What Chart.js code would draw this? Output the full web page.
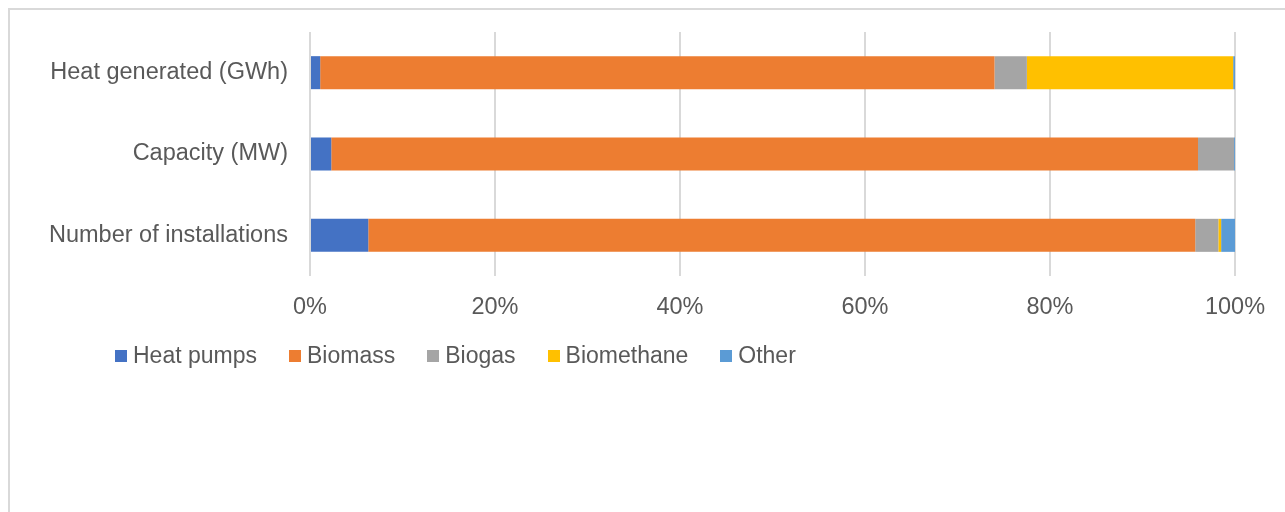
<!DOCTYPE html>
<html lang="en">
<head>
  <meta charset="UTF-8">
  <title>Renewable heat by technology</title>
  <script src="https://cdn.jsdelivr.net/npm/chart.js"></script>
  <style>
    * { box-sizing: border-box; margin: 0; padding: 0; }
    body { width: 1285px; height: 512px; background: #fff; overflow: hidden; position: relative;
           font-family: 'Liberation Sans', Arial, sans-serif; }
    .frame { position: absolute; left: 8px; top: 8px; width: 1300px; height: 520px; border: 2px solid #d9d9d9; }
    .chart-wrap { position: absolute; left: 0; top: 0; width: 1285px; height: 512px; }
    .legend { position: absolute; left: 115px; top: 342px; display: flex; gap: 32px; align-items: center;
              font-size: 23px; color: #595959; }
    .legend span.item { display: flex; align-items: center; gap: 6px; white-space: nowrap; }
    .legend i { display: inline-block; width: 12px; height: 12px; }
  </style>
</head>
<body>
  <div class="frame"></div>
  <div class="chart-wrap"><canvas id="chart" width="1285" height="512"></canvas></div>
  <div class="legend" id="legend"></div>

  <script>
    // categories, top to bottom
    const categories = ['Heat generated (GWh)', 'Capacity (MW)', 'Number of installations'];
    const seriesNames = ['Heat pumps', 'Biomass', 'Biogas', 'Biomethane', 'Other'];
    const seriesColors = ['#4472C4', '#ED7D31', '#A5A5A5', '#FFC000', '#5B9BD5'];

    // shares in %, one value per category
    const heatPumps  = [1.1, 2.3, 6.3];
    const biomass    = [72.9, 93.7, 89.4];
    const biogas     = [3.5, 3.9, 2.5];
    const biomethane = [22.3, 0.0, 0.3];
    const other      = [0.2, 0.1, 1.5];
    const xTicks     = [0, 20, 40, 60, 80, 100];

    const values = [heatPumps, biomass, biogas, biomethane, other];
    const textColor = '#595959';
    const font = { family: "'Liberation Sans', Arial, sans-serif", size: 23.5 };

    const datasets = seriesNames.map((name, i) => ({
      label: name,
      data: values[i],
      backgroundColor: seriesColors[i],
      borderWidth: 0,
      categoryPercentage: 1,
      barPercentage: 0.406
    }));

    new Chart(document.getElementById('chart'), {
      type: 'bar',
      data: { labels: categories, datasets },
      options: {
        indexAxis: 'y',
        responsive: false,
        animation: false,
        layout: { padding: { left: 0, right: 50, top: 32, bottom: 176 } },
        plugins: { legend: { display: false }, tooltip: { enabled: false } },
        scales: {
          x: {
            stacked: true, min: 0, max: 100,
            afterFit: s => { s.height = 60; s.paddingLeft = 0; s.paddingRight = 0; },
            afterBuildTicks: s => { s.ticks = xTicks.map(v => ({ value: v })); },
            grid: { color: '#d9d9d9', lineWidth: 2, drawTicks: false },
            border: { display: false },
            ticks: { color: textColor, font, padding: 17, callback: v => v + '%' }
          },
          y: {
            stacked: true,
            afterFit: s => { s.width = 310; s.paddingTop = 0; s.paddingBottom = 0; },
            grid: { display: false, drawTicks: false },
            border: { display: false },
            ticks: { color: textColor, font, padding: 22 }
          }
        }
      }
    });

    // legend
    const legend = document.getElementById('legend');
    seriesNames.forEach((name, i) => {
      const item = document.createElement('span');
      item.className = 'item';
      const box = document.createElement('i');
      box.style.background = seriesColors[i];
      const txt = document.createElement('span');
      txt.textContent = name;
      item.append(box, txt);
      legend.appendChild(item);
    });
  </script>
</body>
</html>
